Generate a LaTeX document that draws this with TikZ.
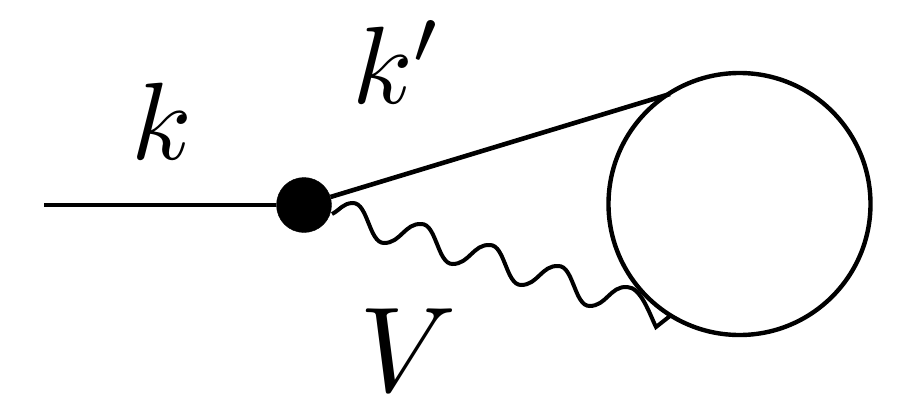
\documentclass[tikz,border=0pt]{standalone}
\usepackage{amsmath, amssymb, amsfonts}
\usepackage{tikz}
\usetikzlibrary{positioning, calc}

\begin{document}
\begin{tikzpicture}[
  x=1pt, y=-1pt,
  lin/.style={line width=4.6pt},
  vtx/.style={circle, draw, fill=black, inner sep=0pt, minimum size=55pt},
  bubble/.style={circle, draw, line width=4.4pt, inner sep=0pt, minimum size=262pt},
  wavy/.style={line width=4pt, line join=miter},
  lbl/.style={scale=11, inner sep=0pt}
]
\useasboundingbox (0,0) rectangle (913,399);
\node[vtx] (vert) at (304,205) {};
\node[bubble] (loop) at (739.5,204) {};
\coordinate (in) at (44,205);
\coordinate (top) at (670,94);
\coordinate (wstart) at (332,214);
\coordinate (wend) at (670,316);
\node[lbl] (kk) at (162,121) {$k$};
\node[lbl] (kp) at (398,62) {$k'$};
\node[lbl, scale=1.1] (vv) at (408,350) {$V$};
\draw[lin] (in) -- (vert);
\draw[lin] (vert) -- (top);
\draw[wavy] (wstart) .. controls +(8,-4) and +(-10,0) .. ++(21,-11)
  \foreach \i in {1,...,4}{
    .. controls +(15,0) and +(-15,0) .. ++(31,40)
    .. controls +(17,0) and +(-17,-1) .. ++(37.5,-19)
  }
  .. controls +(14,0) and +(-6,-12) .. ++(29,40) -- (wend);
\end{tikzpicture}
\end{document}
